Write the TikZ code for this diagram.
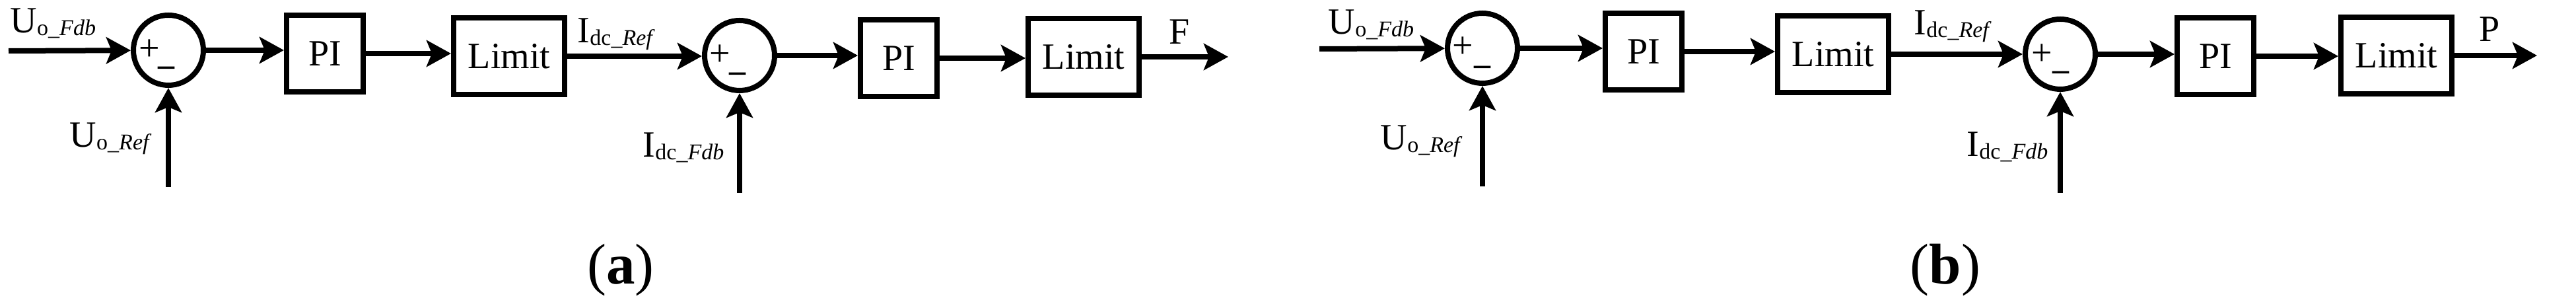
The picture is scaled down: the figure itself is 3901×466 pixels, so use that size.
\documentclass[tikz,border=0pt]{standalone}
\usepackage{fontspec}
\setmainfont{Liberation Serif}
\usetikzlibrary{arrows.meta}
\newcommand{\signame}[3]{#1\raisebox{-1pt}{\fontsize{8.5}{9}\selectfont #2\_\textit{#3}}}
\tikzset{
  sumnode/.style={circle, draw, line width=2pt, minimum size=26.5pt},
  pinode/.style={draw, line width=2pt, minimum width=29pt, minimum height=29pt, font=\fontsize{14}{16}\selectfont},
  limnode/.style={pinode, minimum width=42pt},
  sigline/.style={line width=2pt, -{Stealth[length=9.25pt, width=10pt, inset=2pt]}},
  siglabel/.style={anchor=base west, font=\fontsize{14}{15}\selectfont},
  plusnode/.style={font=\fontsize{14}{15}\selectfont},
  minusnode/.style={font=\fontsize{12.5}{13}\selectfont\bfseries},
  capnode/.style={anchor=base, font=\fontsize{21.75}{24}\selectfont},
}
\begin{document}
\begin{tikzpicture}[y=0.25pt, x=0.25pt, yscale=-1, inner sep=0pt]
\useasboundingbox (0,0) rectangle (3901,466);
\begin{scope}
  \node[sumnode] (sumUa) at (255,76) {};
  \node[plusnode] (plusUa) at (226,76) {+};
  \node[minusnode] (minusUa) at (252,108) {--};
  \node[pinode] (piUa) at (492,81) {PI};
  \node[limnode] (limUa) at (771,85) {Limit};
  \node[sumnode] (sumIa) at (1120,84) {};
  \node[plusnode] (plusIa) at (1090,84) {+};
  \node[minusnode] (minusIa) at (1117,117) {--};
  \node[pinode] (piIa) at (1361,88) {PI};
  \node[limnode] (limIa) at (1641,86) {Limit};
  \coordinate (inUa) at (13,77);
  \coordinate (refUa) at (255,283);
  \coordinate (refIa) at (1120,292);
  \coordinate (outa) at (1860,86);
  \draw[sigline] (inUa) -- (sumUa);
  \draw[sigline] (refUa) -- (sumUa);
  \draw[sigline] (sumUa) -- (sumUa -| piUa.west);
  \draw[sigline] (piUa) -- (piUa -| limUa.west);
  \draw[sigline] (limUa) -- (limUa -| sumIa.west);
  \draw[sigline] (refIa) -- (sumIa);
  \draw[sigline] (sumIa) -- (sumIa -| piIa.west);
  \draw[sigline] (piIa) -- (piIa -| limIa.west);
  \draw[sigline] (limIa) -- (outa);
  \node[siglabel] (lblUfa) at (15,50) {\signame{U}{o}{Fdb}};
  \node[siglabel] (lblUra) at (105,223) {\signame{U}{o}{Ref}};
  \node[siglabel] (lblIra) at (874,65) {\signame{I}{dc}{Ref}};
  \node[siglabel] (lblIfa) at (973,238) {\signame{I}{dc}{Fdb}};
  \node[siglabel, anchor=base] (lblF) at (1786,67) {F};
  \node[capnode] (capa) at (940,430) {(\textbf{a})};
\end{scope}
\begin{scope}
  \node[sumnode] (sumUb) at (2245,73) {};
  \node[plusnode] (plusUb) at (2215,72) {+};
  \node[minusnode] (minusUb) at (2245,107) {--};
  \node[pinode] (piUb) at (2489,78) {PI};
  \node[limnode] (limUb) at (2776,82) {Limit};
  \node[sumnode] (sumIb) at (3120,82) {};
  \node[plusnode] (plusIb) at (3092,83) {+};
  \node[minusnode] (minusIb) at (3121,115) {--};
  \node[pinode] (piIb) at (3355,85) {PI};
  \node[limnode] (limIb) at (3629,84) {Limit};
  \coordinate (inUb) at (1998,74);
  \coordinate (refUb) at (2245,282);
  \coordinate (refIb) at (3120,292);
  \coordinate (outb) at (3842,84);
  \draw[sigline] (inUb) -- (sumUb);
  \draw[sigline] (refUb) -- (sumUb);
  \draw[sigline] (sumUb) -- (sumUb -| piUb.west);
  \draw[sigline] (piUb) -- (piUb -| limUb.west);
  \draw[sigline] (limUb) -- (limUb -| sumIb.west);
  \draw[sigline] (refIb) -- (sumIb);
  \draw[sigline] (sumIb) -- (sumIb -| piIb.west);
  \draw[sigline] (piIb) -- (piIb -| limIb.west);
  \draw[sigline] (limIb) -- (outb);
  \node[siglabel] (lblUfb) at (2011,52) {\signame{U}{o}{Fdb}};
  \node[siglabel] (lblUrb) at (2090,227) {\signame{U}{o}{Ref}};
  \node[siglabel] (lblIrb) at (2898,53) {\signame{I}{dc}{Ref}};
  \node[siglabel] (lblIfb) at (2978,237) {\signame{I}{dc}{Fdb}};
  \node[siglabel, anchor=base] (lblP) at (3770,63) {P};
  \node[capnode] (capb) at (2946,430) {(\textbf{b})};
\end{scope}
\end{tikzpicture}
\end{document}
